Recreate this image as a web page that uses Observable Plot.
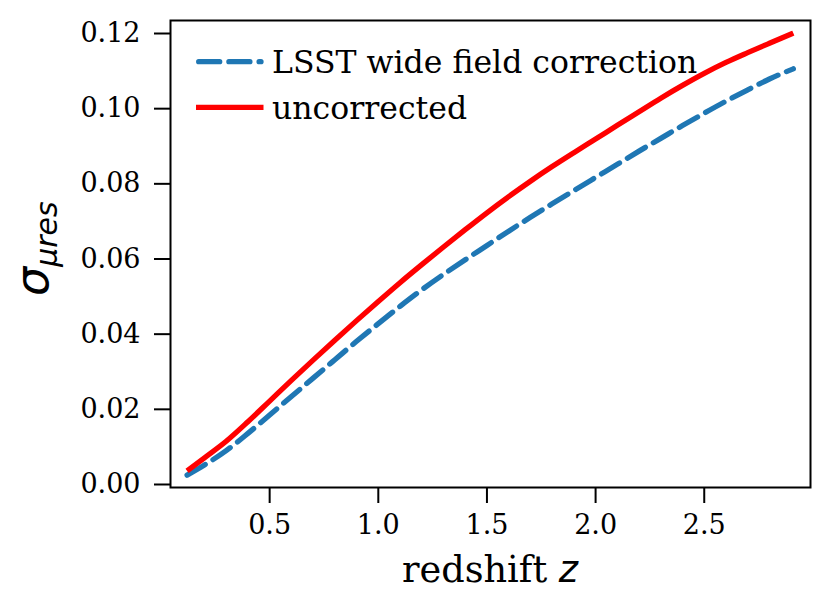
<!DOCTYPE html>
<html>
<head>
<meta charset="utf-8">
<script src="https://cdn.jsdelivr.net/npm/d3@7"></script>
<script src="https://cdn.jsdelivr.net/npm/@observablehq/plot@0.6"></script>
<style>
  html, body { margin: 0; padding: 0; background: #fff; }
  svg { display: block; }
</style>
</head>
<body>
<div id="chart"></div>
<script>
// Data
const redshift = [0.12, 0.2, 0.3, 0.4, 0.5, 0.6, 0.7, 0.8, 0.9, 1.0, 1.1, 1.2, 1.3, 1.4, 1.5, 1.6, 1.7, 1.8, 1.9, 2.0, 2.1, 2.2, 2.3, 2.4, 2.5, 2.6, 2.7, 2.8, 2.91];
const uncorrected = [0.0036, 0.0071, 0.0115, 0.0167, 0.0222, 0.0277, 0.0331, 0.0384, 0.0436, 0.0487, 0.0537, 0.0585, 0.0632, 0.0678, 0.0723, 0.0766, 0.0807, 0.0846, 0.0883, 0.0919, 0.0956, 0.0992, 0.1028, 0.1062, 0.1094, 0.1123, 0.1149, 0.1174, 0.1201];
const lsstCorrected = [0.0025, 0.0052, 0.0090, 0.0136, 0.0185, 0.0234, 0.0283, 0.0332, 0.0381, 0.0428, 0.0474, 0.0518, 0.0559, 0.0598, 0.0636, 0.0674, 0.0711, 0.0747, 0.0782, 0.0817, 0.0852, 0.0887, 0.0921, 0.0955, 0.0988, 0.1020, 0.1050, 0.1079, 0.1106];
const seriesNames = ["LSST wide field correction", "uncorrected"];
const xTicks = [0.5, 1.0, 1.5, 2.0, 2.5];
const yTicks = [0.00, 0.02, 0.04, 0.06, 0.08, 0.10, 0.12];

const blueRows = redshift.map((z, i) => ({z, v: lsstCorrected[i]}));
const redRows = redshift.map((z, i) => ({z, v: uncorrected[i]}));

const W = 830, H = 611;
const mL = 170, mR = 20, mT = 20, mB = 124;
const serif = "'DejaVu Serif', serif";
const sans = "'DejaVu Sans', sans-serif";
const BLUE = "#1f77b4", RED = "#ff0000";
const LW = 5.3, DASH = "21,9.2";

const svg = Plot.plot({
  width: W, height: H,
  marginLeft: mL, marginRight: mR, marginTop: mT, marginBottom: mB,
  style: {fontFamily: serif, fontSize: "27px", color: "black", background: "white"},
  x: {domain: [0.0437, 2.989]},
  y: {domain: [-0.0008, 0.12346]},
  marks: [
    Plot.line(blueRows, {x: "z", y: "v", stroke: BLUE, strokeWidth: LW, strokeDasharray: DASH, strokeLinecap: "round", curve: "monotone-x"}),
    Plot.line(redRows, {x: "z", y: "v", stroke: RED, strokeWidth: LW, strokeLinecap: "butt", curve: "monotone-x"}),
    Plot.axisX({ticks: xTicks, tickFormat: d3.format(".1f"), tickSize: 16, tickPadding: 11, strokeWidth: 2, fontSize: 27, fontFamily: serif, fill: "black", label: null}),
    Plot.axisY({ticks: yTicks, tickFormat: d3.format(".2f"), tickSize: 16, tickPadding: 14, strokeWidth: 2, fontSize: 27, fontFamily: serif, fill: "black", label: null}),
    Plot.frame({stroke: "black", strokeWidth: 2})
  ]
});

document.getElementById("chart").appendChild(svg);

const s = d3.select(svg);

// Legend
const lg = s.append("g").attr("class", "legend");
const rows = [
  {name: seriesNames[0], color: BLUE, dash: DASH, cap: "round", y: 61.7},
  {name: seriesNames[1], color: RED, dash: null, cap: "butt", y: 107.3}
];
rows.forEach(r => {
  lg.append("line")
    .attr("x1", r.cap === "round" ? 198.7 : 196).attr("x2", r.cap === "round" ? 261 : 263.5)
    .attr("y1", r.y).attr("y2", r.y)
    .attr("stroke", r.color).attr("stroke-width", LW)
    .attr("stroke-linecap", r.cap)
    .attr("stroke-dasharray", r.dash);
  lg.append("text")
    .attr("x", 272).attr("y", r.y).attr("dy", "0.36em")
    .attr("text-anchor", "start")
    .attr("font-family", serif).attr("font-size", 31.5).attr("fill", "black")
    .text(r.name);
});

// X label: "redshift z"
const xl = s.append("text")
  .attr("x", (mL + (W - mR)) / 2).attr("y", 581.7)
  .attr("text-anchor", "middle")
  .attr("fill", "black");
xl.append("tspan").attr("font-family", serif).attr("font-size", 36.7).text("redshift ");
xl.append("tspan").attr("font-family", sans).attr("font-style", "italic").attr("font-size", 36.7).text("z");

// Y label: sigma_{mu_res}
const yl = s.append("text")
  .attr("transform", "translate(48,296) rotate(-90)")
  .attr("text-anchor", "start")
  .attr("fill", "black");
yl.append("tspan").attr("font-family", sans).attr("font-style", "italic").attr("font-size", 46).text("σ");
yl.append("tspan").attr("font-family", sans).attr("font-style", "italic").attr("font-size", 30).attr("dy", 9).text("μres");
</script>
</body>
</html>
